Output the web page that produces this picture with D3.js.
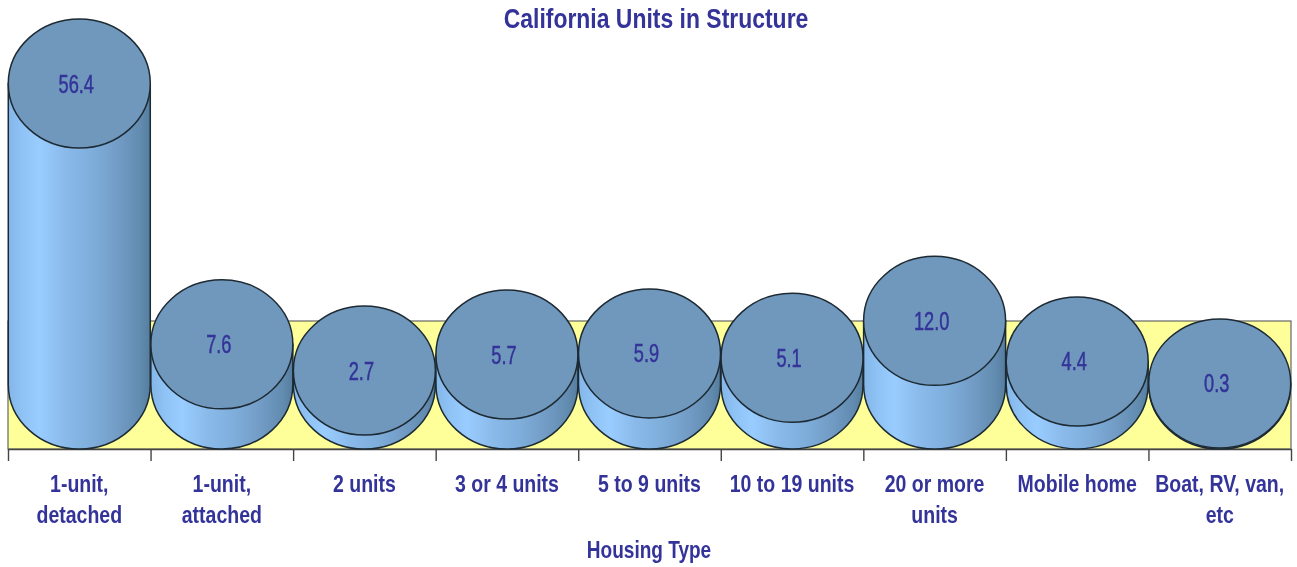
<!DOCTYPE html>
<html><head><meta charset="utf-8">
<script src="https://cdnjs.cloudflare.com/ajax/libs/d3/7.8.5/d3.min.js"></script>
<style>html,body{margin:0;padding:0;background:#fff;overflow:hidden}svg{display:block;filter:blur(.35px)}
text{font-family:"Liberation Sans",sans-serif;fill:#333399}</style>
</head><body><svg id="c" width="1297" height="567"></svg>
<script>
const categories=["1-unit,\ndetached","1-unit,\nattached","2 units","3 or 4 units","5 to 9 units","10 to 19 units","20 or more\nunits","Mobile home","Boat, RV, van,\netc"];
const values=[56.4,7.6,2.7,5.7,5.9,5.1,12.0,4.4,0.3];
const chartTitle="California Units in Structure";
const axisTitle="Housing Type";

const svg=d3.select("#c");
const L=8,R=1291,floorY=449,wallTop=321,rx=71,ry=64.5;
const x=d3.scaleBand().domain(categories).range([L,R]);
const baseY=floorY-ry;
const y=d3.scaleLinear().domain([0,56.4]).range([385,83.5]);

const defs=svg.append("defs");
const g=defs.append("linearGradient").attr("id","cyl");
[[0,"#84b6e8"],[.1,"#8fc2f5"],[.22,"#99ccff"],[.4,"#8abaea"],[.6,"#7eadda"],[.8,"#7099c2"],[.93,"#628bb0"],[1,"#557d9e"]]
 .forEach(d=>g.append("stop").attr("offset",d[0]).attr("stop-color",d[1]));

svg.append("rect").attr("x",L).attr("y",wallTop).attr("width",R-L).attr("height",floorY-wallTop)
  .attr("fill","#ffff99").attr("stroke","#666").attr("stroke-width",1.2);

const axis=d3.axisBottom(d3.scaleLinear().domain([0,categories.length]).range([L,R]))
  .tickValues(d3.range(categories.length+1)).tickSize(12).tickSizeOuter(0).tickFormat("");
svg.append("g").attr("transform",`translate(0,${floorY})`).call(axis)
  .call(s=>s.selectAll("path,line").attr("stroke","#444").attr("stroke-width",1.4));

const bars=svg.selectAll("g.bar").data(categories.map((c,i)=>({c,v:values[i]}))).join("g").attr("class","bar");
bars.append("path").attr("fill","url(#cyl)").attr("stroke","#1d2a33").attr("stroke-width",1.5)
 .attr("d",d=>{const cx=x(d.c)+x.bandwidth()/2,t=y(d.v);
   return `M${cx-rx},${t}L${cx-rx},${baseY}A${rx},${ry} 0 0 0 ${cx+rx},${baseY}L${cx+rx},${t}Z`;});
bars.append("ellipse").attr("cx",d=>x(d.c)+x.bandwidth()/2).attr("cy",d=>y(d.v))
 .attr("rx",rx).attr("ry",ry).attr("fill","#7098bc").attr("stroke","#1d2a33").attr("stroke-width",1.5);
bars.append("text").attr("transform",d=>`translate(${x(d.c)+x.bandwidth()/2-3},${y(d.v)+9}) scale(.7,1)`)
 .attr("text-anchor","middle").attr("font-size",26).attr("stroke","#333399").attr("stroke-width",.5).text(d=>d.v.toFixed(1));

const cat=svg.selectAll("g.cat").data(categories).join("g").attr("class","cat");
cat.each(function(c){d3.select(this).selectAll("text").data(c.split("\n")).join("text")
  .attr("transform",(d,i)=>`translate(${x(c)+x.bandwidth()/2},${491.5+i*31.5}) scale(.83,1)`)
  .attr("text-anchor","middle").attr("font-size",23.5).attr("font-weight","bold").text(d=>d);});

svg.append("text").attr("transform","translate(656,28) scale(.85,1)").attr("text-anchor","middle").attr("font-size",27).attr("font-weight","bold").text(chartTitle);
svg.append("text").attr("transform","translate(649,558) scale(.81,1)").attr("text-anchor","middle").attr("font-size",23.5).attr("font-weight","bold").text(axisTitle);
</script></body></html>
